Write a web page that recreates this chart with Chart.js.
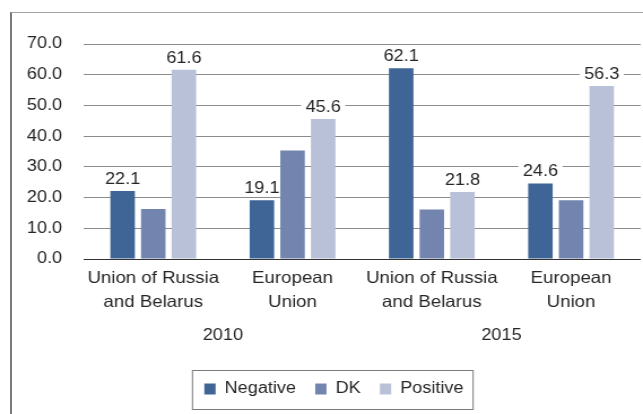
<!DOCTYPE html>
<html><head><meta charset="utf-8">
<script src="https://cdn.jsdelivr.net/npm/chart.js@4/dist/chart.umd.min.js"></script>
<style>
html,body{margin:0;padding:0;background:#fff;overflow:hidden;width:643px;height:414px;}
#frame{position:absolute;left:10px;top:12px;width:700px;height:500px;border-left:2px solid #7a7a7a;border-top:1px solid #a3a3a3;}
#wrap{position:absolute;left:0;top:0;width:569px;height:414px;transform:scaleX(1.13);transform-origin:0 0;}
</style></head><body>
<div id="frame"></div>
<div id="wrap"><canvas id="c"></canvas></div>
<script>
// ---- data ----
const categories = [['Union of Russia','and Belarus'],['European','Union'],['Union of Russia','and Belarus'],['European','Union']];
const years = ['2010','2015'];
const seriesNames = ['Negative','DK','Positive'];
const negative = [22.1, 19.1, 62.1, 24.6];
const dk = [16.3, 35.3, 16.1, 19.1];
const positive = [61.6, 45.6, 21.8, 56.3];
const labeledSeries = ['Negative','Positive'];
const yMin = 0, yMax = 70, yStep = 10;

// ---- style ----
const FONT = "'Liberation Sans', Arial, sans-serif";
const TXT = '#262626';
const colors = ['#3E6596','#7385AE','#B9C1D8'];
const LEGEND_START = 180.8;

const legendFrame = {
  id:'legendFrame',
  beforeDraw(chart){
    const lg = chart.legend;
    if(!lg || !lg.legendHitBoxes || !lg.legendHitBoxes.length) return;
    const hb = lg.legendHitBoxes;
    const dx = LEGEND_START - hb[0].left;
    if(Math.abs(dx) > 0.01){
      lg.left += dx; lg.right += dx;
      hb.forEach(h => h.left += dx);
    }
  },
  afterDraw(chart){
    const lg = chart.legend;
    if(!lg || !lg.legendHitBoxes || !lg.legendHitBoxes.length) return;
    const hb = lg.legendHitBoxes;
    const f = hb[0], l = hb[hb.length-1];
    const cy = f.top + f.height/2;
    const ctx = chart.ctx;
    ctx.save();
    ctx.strokeStyle = '#7a7a7a';
    ctx.lineWidth = 1;
    ctx.strokeRect(f.left - 10.5, Math.round(cy - 19.5) + 0.5, (l.left + l.width) - f.left + 19, 39);
    ctx.restore();
  }
};

function eachLabel(chart, fn){
  const ctx = chart.ctx;
  ctx.save();
  ctx.font = '16px ' + FONT;
  ctx.textAlign = 'center';
  ctx.textBaseline = 'middle';
  chart.data.datasets.forEach((ds, i) => {
    if(!labeledSeries.includes(ds.label)) return;
    chart.getDatasetMeta(i).data.forEach((el, j) => {
      const t = ds.data[j].toFixed(1);
      fn(ctx, t, el.x, el.y - 12.5, ctx.measureText(t).width);
    });
  });
  ctx.restore();
}

const valueLabels = {
  id:'valueLabels',
  beforeDatasetsDraw(chart){
    eachLabel(chart, (ctx, t, x, y, w) => {
      ctx.fillStyle = '#fff';
      ctx.fillRect(x - w/2 - 4, y - 9, w + 8, 18);
    });
  },
  afterDatasetsDraw(chart){
    eachLabel(chart, (ctx, t, x, y) => {
      ctx.fillStyle = TXT;
      ctx.fillText(t, x, y + 1);
    });
  }
};

const datasets = [negative, dk, positive].map((d, i) => ({
  label: seriesNames[i],
  data: d,
  backgroundColor: colors[i],
  borderWidth: 0,
  categoryPercentage: 0.66,
  barPercentage: 0.8,
  xAxisID: 'x'
}));

new Chart(document.getElementById('c'), {
  type: 'bar',
  data: { labels: categories, datasets },
  options: {
    responsive: true,
    maintainAspectRatio: false,
    animation: false,
    layout: { padding: { top: 44, left: 0, right: 2, bottom: 7 } },
    plugins: {
      tooltip: { enabled: false },
      legend: {
        position: 'bottom',
        labels: {
          boxWidth: 10, boxHeight: 11, padding: 17,
          color: TXT,
          font: { family: FONT, size: 16 }
        }
      }
    },
    scales: {
      x: {
        type: 'category',
        position: 'bottom',
        weight: 0,
        grid: { display: false, drawTicks: false },
        border: { display: false },
        ticks: {
          color: TXT, padding: 8, maxRotation: 0, autoSkip: false,
          font: { family: FONT, size: 16.5, lineHeight: 1.42 }
        },
        afterFit(s){ s.height = 64; }
      },
      x2: {
        type: 'category',
        labels: years,
        position: 'bottom',
        offset: true,
        weight: 1,
        grid: { display: false, drawTicks: false },
        border: { display: false },
        ticks: {
          color: TXT, padding: 1, maxRotation: 0, autoSkip: false,
          font: { family: FONT, size: 16, lineHeight: 1.45 }
        },
        afterFit(s){ s.height = 41; }
      },
      y: {
        min: yMin, max: yMax,
        grid: {
          drawTicks: false,
          color: c => c.tick && c.tick.value === 0 ? '#333333' : '#8c8c8c',
          lineWidth: 1
        },
        border: { display: false },
        ticks: {
          stepSize: yStep, padding: 19, color: TXT,
          font: { family: FONT, size: 16 },
          callback: v => Number(v).toFixed(1)
        },
        afterFit(s){ s.width = 74; }
      }
    }
  },
  plugins: [legendFrame, valueLabels]
});
</script>
</body></html>
